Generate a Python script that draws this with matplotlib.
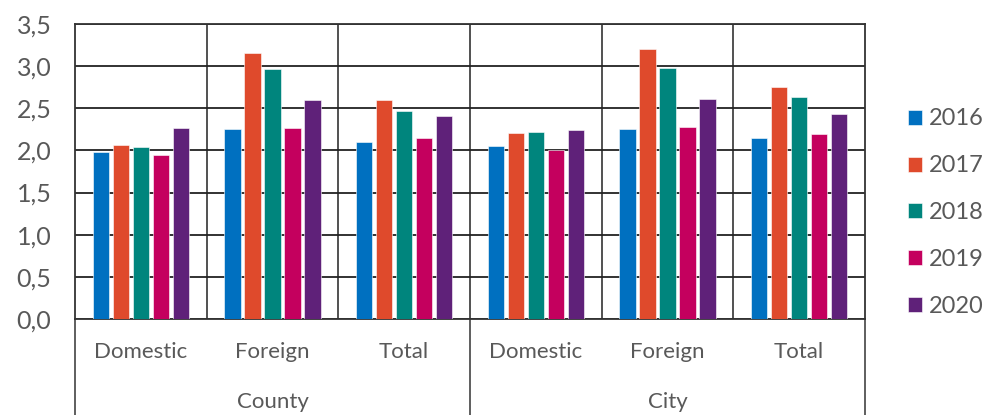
import matplotlib.pyplot as plt
import numpy as np

# data
years = ['2016', '2017', '2018', '2019', '2020']
subcats = ['Domestic', 'Foreign', 'Total', 'Domestic', 'Foreign', 'Total']
regions = ['County', 'City']
v2016 = [1.98, 2.26, 2.10, 2.05, 2.26, 2.15]
v2017 = [2.07, 3.16, 2.60, 2.21, 3.20, 2.75]
v2018 = [2.04, 2.97, 2.47, 2.22, 2.98, 2.63]
v2019 = [1.95, 2.27, 2.15, 2.01, 2.28, 2.20]
v2020 = [2.27, 2.60, 2.41, 2.24, 2.61, 2.43]
series = [v2016, v2017, v2018, v2019, v2020]
colors = ['#0070C0', '#DF4A2C', '#00857D', '#C4005E', '#5F2179']
yticks = [0.0, 0.5, 1.0, 1.5, 2.0, 2.5, 3.0, 3.5]

txt = '#595959'
plt.rcParams['font.family'] = ['Lato', 'DejaVu Sans']

fig = plt.figure(figsize=(9.92, 4.15), dpi=100)
ax = fig.add_axes([75/992, 96/415, 790/992, 295/415])

x = np.arange(len(subcats)) + 0.5
bw = 0.122
step = 0.152
for i, (vals, c) in enumerate(zip(series, colors)):
    ax.bar(x + (i - 2) * step, vals, width=bw, color=c, edgecolor='white',
           linewidth=0.4, label=years[i], zorder=3)

ax.set_xlim(0, len(subcats))
ax.set_ylim(0, 3.5)
ax.set_yticks(yticks)
ax.set_yticklabels([f'{t:.1f}'.replace('.', ',') for t in yticks],
                   fontsize=18, color=txt)
ax.tick_params(axis='y', length=0, pad=17)
ax.set_xticks([])
ax.grid(axis='y', color='#222222', linewidth=1.3, zorder=1)
for b in range(1, len(subcats)):
    ax.axvline(b, color='#222222', linewidth=1.1, zorder=1)
for s in ax.spines.values():
    s.set_color('#333333')
    s.set_linewidth(1.3)

# category table under the axis
for k, name in enumerate(subcats):
    ax.text(x[k], -0.112, name, transform=ax.get_xaxis_transform(),
            ha='center', va='center', fontsize=16, color=txt)
for r, name in enumerate(regions):
    ax.text(r * 3 + 1.5, -0.28, name, transform=ax.get_xaxis_transform(),
            ha='center', va='center', fontsize=16, color=txt)
for b in [0, 3, 6]:
    ax.plot([b, b], [0, -0.33], transform=ax.get_xaxis_transform(),
            color='#333333', linewidth=1.1, clip_on=False)

leg = ax.legend(loc='center left', bbox_to_anchor=(1.027, 0.36), frameon=False,
                fontsize=17, handlelength=0.6, handleheight=0.6,
                handletextpad=0.3, labelspacing=1.1, labelcolor=txt)

fig.savefig('out.png', dpi=100)
